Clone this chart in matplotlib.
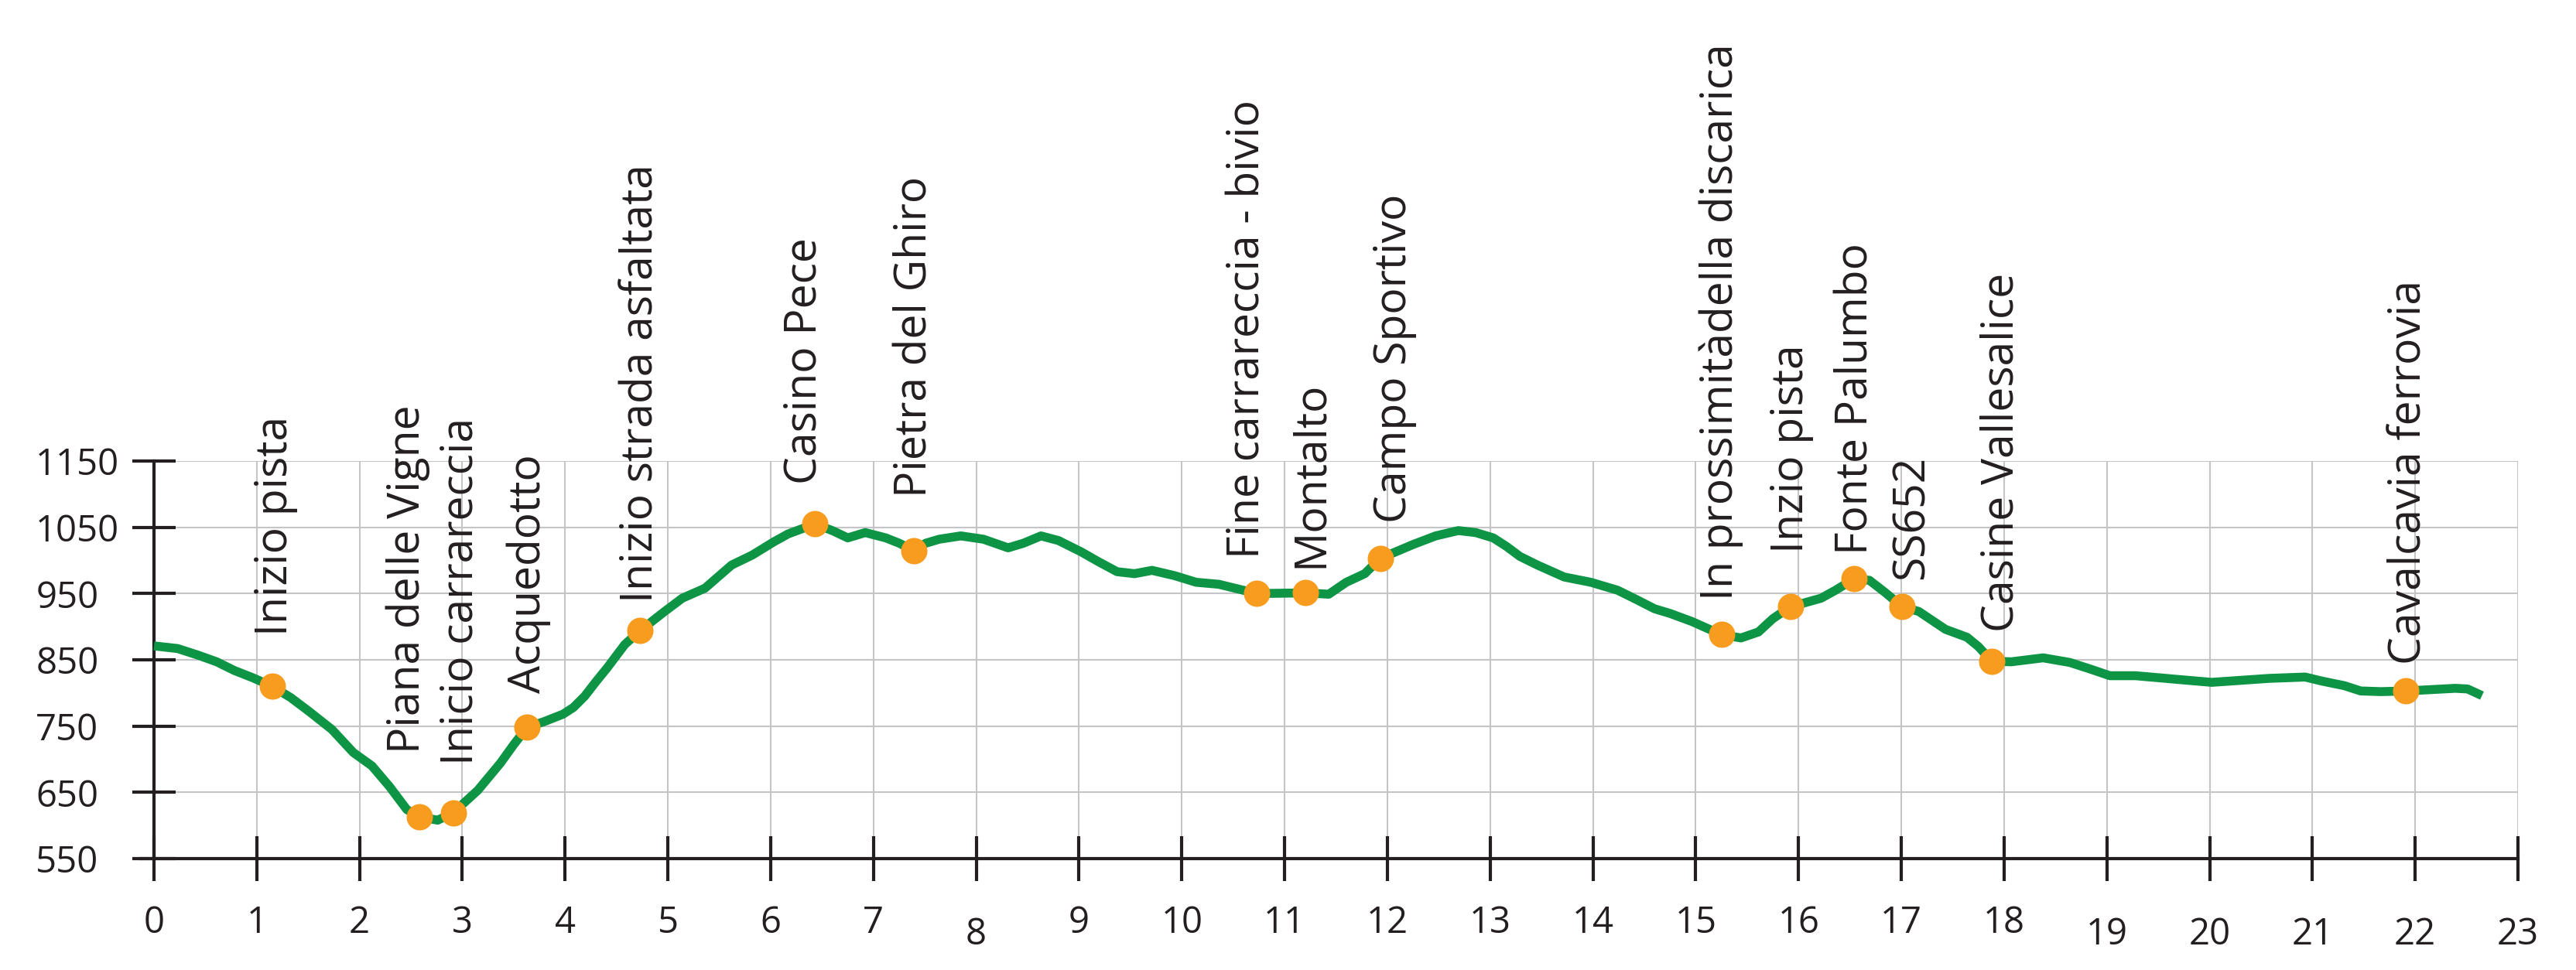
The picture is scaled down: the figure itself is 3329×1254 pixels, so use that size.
import matplotlib
matplotlib.use("Agg")
import matplotlib.pyplot as plt

# ---------------- data ----------------
profile_km = [0, 0.23, 0.43, 0.61, 0.78, 0.96, 1.15, 1.33, 1.51, 1.73, 1.94, 2.12,
              2.29, 2.46, 2.58, 2.76, 2.91, 3.15, 3.37, 3.5, 3.63, 3.8, 3.98, 4.08,
              4.19, 4.30, 4.41, 4.58, 4.73, 4.96, 5.14, 5.36, 5.62, 5.82, 6.03, 6.17,
              6.43, 6.6, 6.75, 6.92, 7.12, 7.25, 7.39, 7.51, 7.64, 7.85, 8.07, 8.31,
              8.46, 8.63, 8.8, 9.02, 9.19, 9.37, 9.54, 9.71, 9.93, 10.14, 10.36,
              10.73, 11.2, 11.43, 11.6, 11.78, 11.93, 12.25, 12.47, 12.69, 12.86,
              13.03, 13.16, 13.29, 13.46, 13.72, 13.98, 14.24, 14.41, 14.6, 14.75,
              14.96, 15.25, 15.44, 15.61, 15.75, 15.92, 16.22, 16.36, 16.54, 16.69,
              16.84, 17.01, 17.17, 17.43, 17.64, 17.75, 17.88, 18.07, 18.38, 18.64,
              18.84, 19.03, 19.28, 19.72, 20.02, 20.58, 20.93, 21.09, 21.31, 21.47,
              21.67, 21.91, 22.39, 22.51, 22.65]
profile_elev = [871, 867, 857, 847, 834, 823, 810, 793, 772, 745, 710, 690,
                659, 624, 613, 608, 619, 653, 694, 722, 748, 757, 768, 778,
                795, 817, 838, 873, 894, 922, 943, 958, 993, 1008, 1028, 1040,
                1055, 1045, 1034, 1042, 1034, 1026, 1015, 1026, 1032, 1037, 1032, 1019,
                1026, 1037, 1030, 1013, 998, 983, 980, 985, 977, 967, 964,
                950, 951, 949, 967, 980, 1003, 1024, 1037, 1045, 1042,
                1034, 1021, 1006, 993, 975, 967, 955, 942, 927, 920,
                908, 888, 883, 892, 912, 930, 943, 955, 972, 970,
                952, 930, 923, 896, 884, 870, 848, 847, 853, 846,
                836, 826, 826, 820, 816, 822, 824, 818, 811, 803,
                802, 803, 807, 806, 796]

poi_names = ["Inizio pista", "Piana delle Vigne", "Inicio carrareccia", "Acquedotto",
             "Inizio strada asfaltata", "Casino Pece", "Pietra del Ghiro",
             "Fine carrareccia - bivio", "Montalto", "Campo Sportivo",
             "In prossimitàdella discarica", "Inzio pista", "Fonte Palumbo", "SS652",
             "Casine Vallesalice", "Cavalcavia ferrovia"]
poi_km = [1.15, 2.58, 2.91, 3.63, 4.73, 6.43, 7.39, 10.73, 11.2, 11.93,
          15.25, 15.92, 16.54, 17.01, 17.88, 21.91]
poi_elev = [810, 613, 619, 748, 894, 1055, 1015, 950, 951, 1003,
            888, 930, 972, 930, 848, 803]

x_ticks = list(range(0, 24))
x_tick_labels = [str(v) for v in x_ticks]
y_ticks = [550, 650, 750, 850, 950, 1050, 1150]
y_tick_labels = [str(v) for v in y_ticks]

# ---------------- style / layout ----------------
GREEN = "#0E9445"
ORANGE = "#F79C1E"
INK = "#231F20"
GRID = "#C5C5C7"
FONT = "Open Sans"

# label offsets in pixels (dx horizontal, dy gap above marker)
label_dx = [5, -14, 10, 2, 2, -13, 2, -11, 8, 19, 0, 2, 3, 13, 13, 5]
label_dy = [65, 82, 62, 44, 36, 51, 69, 45, 32, 46, 44, 69, 31, 35, 38, 34]
# x tick label drop (pixels below axis line, to label centre)
xlab_drop = [83] * 24
for k in (8, 19, 20, 21, 22, 23):
    xlab_drop[k] = 98

W, H = 3330, 1254
fig = plt.figure(figsize=(W / 100, H / 100), dpi=100)
ax = fig.add_axes([182 / W, 144 / H, (3254 - 182) / W, (1110 - 596) / H])
ax.set_xlim(-0.128, 23)
ax.set_ylim(550, 1150)

for s in ("top", "right"):
    ax.spines[s].set_visible(False)
ax.spines["left"].set_position(("data", 0))
for s in ("left", "bottom"):
    ax.spines[s].set_color(INK)
    ax.spines[s].set_linewidth(3)

ax.set_axisbelow(True)
ax.grid(True, color=GRID, linewidth=1.5)

ax.set_xticks(x_ticks)
ax.set_xticklabels([""] * len(x_ticks))
ax.set_yticks(y_ticks)
ax.set_yticklabels(y_tick_labels, fontsize=34, fontfamily=FONT, color=INK, ha="left")
ax.tick_params(axis="x", direction="inout", length=42, width=3, color=INK)
ax.tick_params(axis="y", direction="inout", length=40, width=3, color=INK, pad=90)

for k, lab in enumerate(x_tick_labels):
    ax.annotate(lab, xy=(x_ticks[k], 550), xycoords="data",
                xytext=(0, -xlab_drop[k]), textcoords="offset pixels",
                ha="center", va="center", fontsize=34, fontfamily=FONT, color=INK,
                annotation_clip=False)

ax.plot(profile_km, profile_elev, color=GREEN, linewidth=8.3,
        solid_joinstyle="round", solid_capstyle="butt", zorder=3, clip_on=False)
ax.plot(poi_km, poi_elev, "o", markersize=24.5, color=ORANGE, markeredgewidth=0,
        zorder=4, clip_on=False)

for i, name in enumerate(poi_names):
    ax.annotate(name, xy=(poi_km[i], poi_elev[i]), xycoords="data",
                xytext=(label_dx[i], label_dy[i]), textcoords="offset pixels",
                rotation=90, ha="center", va="bottom", fontsize=41,
                fontfamily=FONT, color=INK, annotation_clip=False)

fig.savefig("out.png", dpi=100, facecolor="white")
